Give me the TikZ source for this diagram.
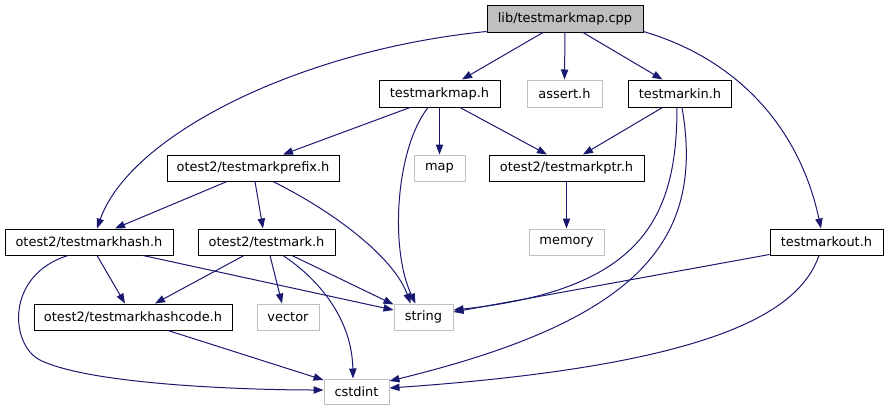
\documentclass[tikz,border=0pt]{standalone}
\usepackage{fontspec}
\setmainfont{DejaVu Sans}
\usetikzlibrary{arrows.meta,calc}
\definecolor{edgeblue}{RGB}{25,25,112}
\definecolor{boxgray}{RGB}{191,191,191}
\begin{document}
\begin{tikzpicture}[x=0.75pt,y=-0.75pt,
  box/.style={font=\fontsize{9.7pt}{11pt}\selectfont, inner sep=0pt, minimum height=19.5pt, line width=0.75pt},
  hdr/.style={box, draw=black},
  sys/.style={box, draw=boxgray},
  edge/.style={draw=edgeblue, line width=0.75pt, -{Triangle[length=7.5pt,width=5.5pt]}},
]
\useasboundingbox (0,0) rectangle (889,411);
% nodes
\node[hdr, fill=boxgray, minimum width=117pt, minimum height=20.25pt] (cpp) at (565,18.5) {lib/testmarkmap.cpp};
\node[hdr, minimum width=90.75pt, minimum height=20.25pt] (tmap) at (439.5,93.5) {testmarkmap.h};
\node[sys, minimum width=56.25pt, minimum height=20.25pt] (assert) at (564.5,93.5) {assert.h};
\node[hdr, minimum width=77.25pt, minimum height=20.25pt] (tin) at (680,93.5) {testmarkin.h};
\node[hdr, minimum width=129pt] (prefix) at (253,168) {otest2/testmarkprefix.h};
\node[sys, minimum width=38.25pt] (map) at (439.5,168) {map};
\node[hdr, minimum width=116.25pt] (ptr) at (566.5,168) {otest2/testmarkptr.h};
\node[hdr, minimum width=126pt] (hash) at (89,242) {otest2/testmarkhash.h};
\node[hdr, minimum width=102.75pt] (mark) at (266.5,242) {otest2/testmark.h};
\node[sys, minimum width=56.25pt] (memory) at (566.5,242) {memory};
\node[hdr, minimum width=84.75pt] (out) at (826.5,242) {testmarkout.h};
\node[hdr, minimum width=148.5pt] (hashcode) at (133,317) {otest2/testmarkhashcode.h};
\node[sys, minimum width=46.5pt] (vector) at (288,317) {vector};
\node[sys, minimum width=44.25pt] (string) at (423.5,317) {string};
\node[sys, minimum width=48.75pt, minimum height=18.75pt] (cstdint) at (356.5,391.5) {cstdint};
% edges
\draw[edge] ($(cpp.south)+(-22,0)$) -- ($(tmap.north)+(22.5,0)$);
\draw[edge] (cpp.south) -- (assert.north);
\draw[edge] ($(cpp.south)+(18,0)$) -- ($(tin.north)+(-17.5,0)$);
\draw[edge] ($(cpp.south west)+(0,-1)$) .. controls (300,50) and (130,135) .. ($(hash.north)+(8,0)$);
\draw[edge] ($(cpp.south east)+(0,-1)$) .. controls (740,60) and (800,130) .. ($(out.north)+(-5.5,0)$);
\draw[edge] ($(tmap.south)+(-29.5,0)$) -- ($(prefix.north)+(30,0)$);
\draw[edge] (tmap.south) -- (map.north);
\draw[edge] ($(tmap.south)+(20.5,0)$) -- ($(ptr.north)+(-19.5,0)$);
\draw[edge] ($(tmap.south)+(-11.5,0)$) .. controls (395,150) and (390,250) .. ($(string.north)+(-8,0)$);
\draw[edge] ($(tin.south)+(-17.5,0)$) -- ($(ptr.north)+(16.5,0)$);
\draw[edge] ($(tin.south)+(-3,0)$) .. controls (677,220) and (640,290) .. ($(string.east)+(0,-7)$);
\draw[edge] ($(tin.south)+(2,0)$) .. controls (705,240) and (640,320) .. ($(cstdint.east)+(0,-10.5)$);
\draw[edge] ($(prefix.south)+(-26,0)$) -- ($(hash.north)+(26,0)$);
\draw[edge] ($(prefix.south)+(2,0)$) -- ($(mark.north)+(-3.5,0)$);
\draw[edge] ($(prefix.south)+(20,0)$) .. controls (340,215) and (395,260) .. ($(string.north)+(-13,0)$);
\draw[edge] ($(hash.south)+(8,0)$) -- ($(hashcode.north)+(-8,0)$);
\draw[edge] ($(hash.south)+(54,0)$) -- ($(string.west)+(0,-7)$);
\draw[edge] ($(hash.south)+(-21,0)$) .. controls (5,275) and (10,345) .. (40,360) .. controls (90,385) and (250,390) .. ($(cstdint.west)+(0,-1.5)$);
\draw[edge] ($(mark.south)+(-22.5,0)$) -- ($(hashcode.north)+(22,0)$);
\draw[edge] ($(mark.south)+(3.5,0)$) -- ($(vector.north)+(-6,0)$);
\draw[edge] ($(mark.south)+(25.5,0)$) -- ($(string.north west)+(0,1)$);
\draw[edge] ($(mark.south)+(16.5,0)$) .. controls (320,280) and (352,320) .. ($(cstdint.north)+(-3.5,0)$);
\draw[edge] ($(hashcode.south)+(35,0)$) -- ($(cstdint.west)+(0,-11.5)$);
\draw[edge] ($(out.south west)+(0,-1)$) -- ($(string.east)+(0,-5)$);
\draw[edge] ($(out.south)+(-7.5,0)$) .. controls (800,310) and (720,365) .. ($(cstdint.east)+(0,-3.5)$);
\draw[edge] (ptr.south) -- (memory.north);
\end{tikzpicture}
\end{document}
